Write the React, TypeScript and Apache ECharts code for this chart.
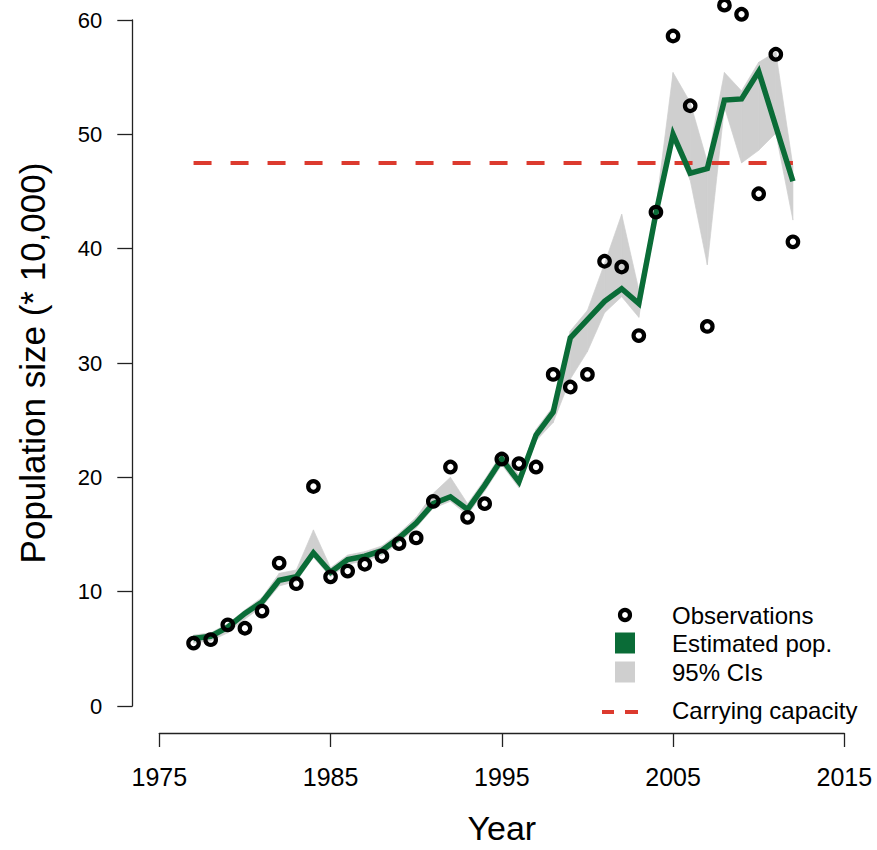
import React, { useEffect, useRef } from "react";
import * as echarts from "echarts";

const years = [
  1977, 1978, 1979, 1980, 1981, 1982, 1983, 1984, 1985, 1986, 1987, 1988,
  1989, 1990, 1991, 1992, 1993, 1994, 1995, 1996, 1997, 1998, 1999, 2000,
  2001, 2002, 2003, 2004, 2005, 2006, 2007, 2008, 2009, 2010, 2011, 2012,
];
const observations = [
  5.5, 5.8, 7.1, 6.8, 8.3, 12.5, 10.7, 19.2, 11.3, 11.8, 12.4, 13.1,
  14.2, 14.7, 17.9, 20.9, 16.5, 17.7, 21.6, 21.2, 20.9, 29.0, 27.9, 29.0,
  38.9, 38.4, 32.4, 43.2, 58.6, 52.5, 33.2, 61.3, 60.5, 44.8, 57.0, 40.6,
];
const estimated = [
  5.9, 6.1, 6.9, 8.1, 9.1, 11.0, 11.3, 13.4, 11.7, 12.8, 13.1, 13.6,
  14.7, 16.0, 17.7, 18.3, 17.2, 19.3, 21.6, 19.6, 23.7, 25.7, 32.2, 33.8,
  35.4, 36.5, 35.2, 43.1, 50.0, 46.6, 47.0, 53.0, 53.1, 55.5, 50.7, 45.9,
];
const ciLower = [
  5.5, 5.7, 6.4, 7.6, 8.7, 10.5, 10.9, 13.0, 11.3, 12.4, 12.7, 13.2,
  14.3, 15.6, 17.3, 17.9, 16.7, 18.8, 21.1, 19.1, 23.2, 24.8, 28.6, 31.0,
  34.4, 35.8, 34.0, 42.7, 49.5, 46.0, 38.6, 52.4, 47.5, 48.6, 50.1, 42.5,
];
const ciUpper = [
  6.2, 6.4, 7.2, 8.4, 9.5, 11.6, 11.9, 15.4, 12.1, 13.2, 13.5, 14.0,
  15.1, 16.5, 18.6, 20.0, 17.7, 19.8, 22.1, 20.2, 24.2, 26.2, 32.8, 34.6,
  38.7, 43.0, 36.4, 43.6, 55.4, 52.8, 47.6, 55.4, 53.8, 56.3, 57.2, 47.2,
];
const carryingCapacity = 47.5;
const xRange = { min: 1975, max: 2015, interval: 10 };
const yRange = { min: 0, max: 60, interval: 10 };
const legendLabels = ["Observations", "Estimated pop.", "95% CIs", "Carrying capacity"];

const GREEN = "#0a6c37";
const GREY = "#cfcfcf";
const RED = "#dc3a2e";
const FONT = "'Liberation Sans', Arial, Helvetica, sans-serif";

export default function App() {
  const ref = useRef<HTMLDivElement>(null);

  useEffect(() => {
    if (!ref.current) return;
    const chart = echarts.init(ref.current, null, { renderer: "svg", width: 877, height: 850 });

    const legendX = 615;
    const textX = 672;
    const rows = [615, 643, 672, 710];

    const option: any = {
      animation: false,
      backgroundColor: "#ffffff",
      grid: { left: 159.3, top: 20, width: 685, height: 686, containLabel: false },
      xAxis: {
        type: "value",
        min: xRange.min,
        max: xRange.max,
        interval: xRange.interval,
        offset: 27,
        name: "Year",
        nameLocation: "middle",
        nameGap: 78,
        nameTextStyle: { fontFamily: FONT, fontSize: 34, color: "#000" },
        axisLine: { show: true, onZero: false, lineStyle: { color: "#222", width: 1.3 } },
        axisTick: { show: true, inside: false, length: 14, lineStyle: { color: "#222", width: 1.3 } },
        axisLabel: {
          margin: 31,
          fontFamily: FONT,
          fontSize: 25,
          color: "#000",
          formatter: (v: number) => String(v),
        },
        splitLine: { show: false },
      },
      yAxis: {
        type: "value",
        min: yRange.min,
        max: yRange.max,
        interval: yRange.interval,
        offset: 27,
        name: "Population size (* 10,000)",
        nameLocation: "middle",
        nameRotate: 90,
        nameGap: 82,
        nameTextStyle: { fontFamily: FONT, fontSize: 35, color: "#000" },
        axisLine: { show: true, onZero: false, lineStyle: { color: "#222", width: 1.3 } },
        axisTick: { show: true, inside: false, length: 15, lineStyle: { color: "#222", width: 1.3 } },
        axisLabel: { margin: 30, fontFamily: FONT, fontSize: 22, color: "#000" },
        splitLine: { show: false },
      },
      series: [
        {
          name: legendLabels[2],
          type: "custom",
          data: years.map((y, i) => [y, ciLower[i], ciUpper[i]]),
          encode: { x: 0, y: [1, 2] },
          silent: true,
          clip: false,
          z: 1,
          renderItem: (params: any, api: any) => {
            const i = params.dataIndex;
            if (i >= years.length - 1) return null;
            const pts = [
              api.coord([years[i], ciLower[i]]),
              api.coord([years[i + 1], ciLower[i + 1]]),
              api.coord([years[i + 1], ciUpper[i + 1]]),
              api.coord([years[i], ciUpper[i]]),
            ];
            return {
              type: "polygon",
              shape: { points: pts },
              style: { fill: GREY, stroke: GREY, lineWidth: 0.7 },
            };
          },
        },
        {
          name: legendLabels[3],
          type: "line",
          data: [
            [years[0], carryingCapacity],
            [years[years.length - 1], carryingCapacity],
          ],
          symbol: "none",
          lineStyle: { color: RED, width: 4, type: [18, 19] },
          z: 3,
        },
        {
          name: legendLabels[1],
          type: "line",
          data: years.map((y, i) => [y, estimated[i]]),
          symbol: "none",
          lineStyle: { color: GREEN, width: 5.5, join: "miter" },
          z: 4,
        },
        {
          name: legendLabels[0],
          type: "scatter",
          data: years.map((y, i) => [y, observations[i]]),
          symbol: "circle",
          symbolSize: 10.5,
          clip: false,
          itemStyle: { color: "rgba(0,0,0,0)", borderColor: "#000", borderWidth: 4.2, opacity: 1 },
          z: 5,
        },
      ],
      graphic: [
        {
          type: "circle",
          shape: { cx: legendX + 10, cy: rows[0], r: 5 },
          style: { fill: "none", stroke: "#000", lineWidth: 4.2 },
        },
        {
          type: "rect",
          shape: { x: legendX, y: rows[1] - 10.5, width: 20, height: 21 },
          style: { fill: GREEN },
        },
        {
          type: "rect",
          shape: { x: legendX, y: rows[2] - 10.5, width: 20, height: 21 },
          style: { fill: GREY },
        },
        {
          type: "line",
          shape: { x1: 602, y1: rows[3] + 2, x2: 614, y2: rows[3] + 2 },
          style: { stroke: RED, lineWidth: 4 },
        },
        {
          type: "line",
          shape: { x1: 625, y1: rows[3] + 2, x2: 638, y2: rows[3] + 2 },
          style: { stroke: RED, lineWidth: 4 },
        },
        ...legendLabels.map((t, i) => ({
          type: "text",
          x: textX,
          y: rows[i],
          style: {
            text: t,
            fontFamily: FONT,
            fontSize: 24,
            fill: "#000",
            align: "left",
            verticalAlign: "middle",
          },
        })),
      ],
    };

    chart.setOption(option);
    return () => chart.dispose();
  }, []);

  return (
    <div
      ref={ref}
      style={{ position: "absolute", left: 0, top: 0, width: 877, height: 850 }}
    />
  );
}
